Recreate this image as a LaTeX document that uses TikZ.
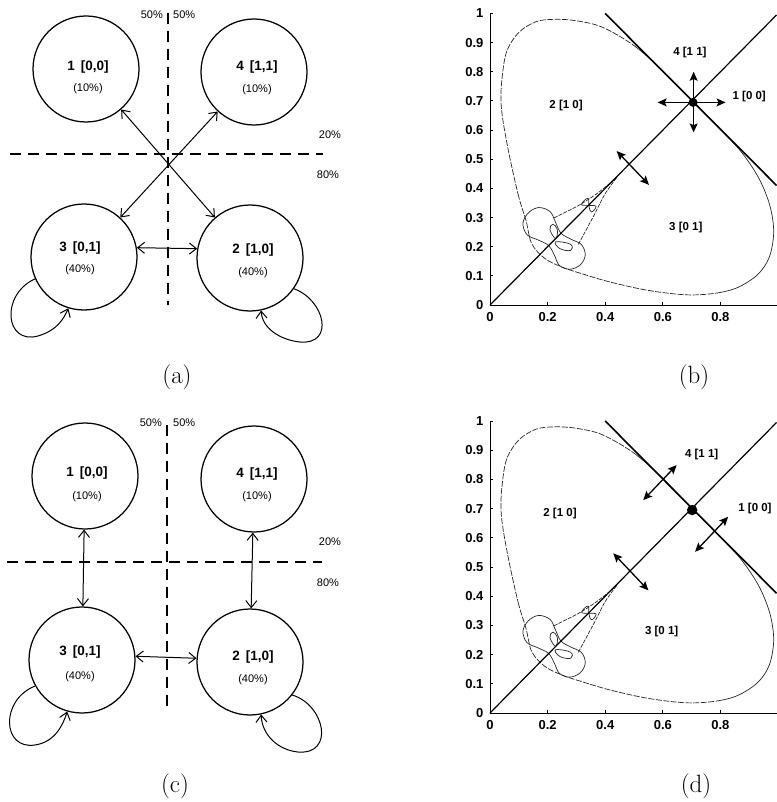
\documentclass[tikz,border=0pt]{standalone}
\usepackage{fontspec}
\newfontfamily\hv{Liberation Sans}
\usetikzlibrary{arrows.meta}

\newcommand{\bigcurve}[1]{%
  \draw[#1] plot[smooth cycle, tension=0.55] coordinates {
    (0.125,0.29) (0.1,0.37) (0.07,0.5) (0.047,0.62) (0.038,0.70) (0.042,0.78)
    (0.058,0.87) (0.1,0.935) (0.16,0.972) (0.225,0.98) (0.3,0.975) (0.39,0.953)
    (0.5,0.89) (0.6,0.803) (0.7,0.702) (0.8,0.602) (0.875,0.522) (0.935,0.432)
    (0.972,0.34) (0.985,0.25) (0.97,0.165) (0.93,0.105) (0.86,0.06) (0.78,0.04)
    (0.68,0.035) (0.55,0.05) (0.42,0.078) (0.32,0.107) (0.25,0.13) (0.19,0.16)
    (0.145,0.21)};}

\newcommand{\plotbase}[1]{%
  \begin{scope}
    \clip (-0.2,-0.2) -- (0.85,-0.2) -- (0.7,0.5) -- (0.5,0.8) -- (0.5,1.2) -- (-0.2,1.2) -- cycle;
    \bigcurve{thincurve, dash pattern=on 6pt off 1.5pt}
  \end{scope}
  \begin{scope}
    \clip (0.5,1.2) -- (1.2,1.2) -- (1.2,-0.2) -- (0.85,-0.2) -- (0.7,0.5) -- (0.5,0.8) -- cycle;
    \bigcurve{thincurve}
  \end{scope}
  \begin{scope}[shift={(0.225,0.225)}, rotate=-45]
    \draw[thincurve] plot[smooth cycle, tension=0.6] coordinates {
      (-0.13,0) (-0.118,0.038) (-0.08,0.056) (-0.042,0.044) (0,0.03) (0.04,0.04)
      (0.078,0.052) (0.113,0.036) (0.125,0) (0.11,-0.036) (0.075,-0.052) (0.04,-0.04)
      (0,-0.03) (-0.04,-0.042) (-0.08,-0.056) (-0.118,-0.038)};
    \draw[thincurve] plot[smooth cycle, tension=0.7] coordinates {
      (0,0.004) (-0.018,0.03) (-0.042,0.032) (-0.036,0.012)};
    \draw[thincurve] plot[smooth cycle, tension=0.7] coordinates {
      (0.008,-0.004) (0.035,-0.01) (0.066,0.012) (0.05,0.026)};
    \draw[thincurve, dash pattern=on 4pt off 1.2pt] plot[smooth] coordinates {
      (-0.055,0.05) (-0.025,0.14) (-0.008,0.22) (0,0.30)};
    \draw[thincurve, dash pattern=on 4pt off 1.2pt] plot[smooth] coordinates {
      (0.07,0.045) (0.035,0.16) (0.012,0.23) (0,0.30)};
    \draw[thincurve] plot[smooth cycle, tension=0.8] coordinates {
      (-0.02,0.15) (0,0.165) (0.02,0.18) (0.022,0.155) (0,0.165) (-0.02,0.18)};
  \end{scope}
  \coordinate (#1top) at (0,1);
  \coordinate (#1o) at (0,0);
  \coordinate (#1xe) at (0.995,0);
  \draw[axisline] (#1top) -- (#1o) -- (#1xe);
  \foreach \k/\lab in {0/0,1/0.1,2/0.2,3/0.3,4/0.4,5/0.5,6/0.6,7/0.7,8/0.8,9/0.9,10/1}{
    \draw[axisline] (0,\k/10) -- (0.012,\k/10);
    \node[ticklbl, anchor=east] (#1y\k) at (-0.022,\k/10) {\lab};
  }
  \foreach \k/\lab in {0/0,2/0.2,4/0.4,6/0.6,8/0.8}{
    \draw[axisline] (\k/10,0) -- (\k/10,0.012);
    \node[ticklbl] (#1x\k) at (\k/10,-0.042) {\lab};
  }
  \coordinate (#1d0) at (0,0);
  \coordinate (#1d1) at (0.995,0.995);
  \draw[diag] (#1d0) -- (#1d1);
  \coordinate (#1a0) at (0.4,1.0);
  \coordinate (#1a1) at (0.995,0.41);
  \draw[anti] (#1a0) -- (#1a1);
}

\begin{document}
\begin{tikzpicture}[x=1pt,y=-1pt,
  state/.style={draw, circle, minimum size=106pt, inner sep=0pt, line width=1.25pt},
  ttl/.style={font=\hv\bfseries\fontsize{13.5}{15}\selectfont, inner sep=0pt},
  pct/.style={font=\hv\fontsize{11}{12}\selectfont, inner sep=0pt},
  sharelbl/.style={font=\hv\fontsize{11}{12}\selectfont, inner sep=0pt},
  divider/.style={line width=1.2pt, dash pattern=on 11pt off 7pt},
  link/.style={{Straight Barb[length=7pt,width=11pt]}-{Straight Barb[length=7pt,width=11pt]}, line width=1pt},
  selfloop/.style={-{Straight Barb[length=7pt,width=11pt]}, line width=1pt},
  caption/.style={font=\fontsize{25}{30}\selectfont, inner sep=0pt},
  axisline/.style={line width=1pt},
  ticklbl/.style={font=\hv\bfseries\fontsize{13}{15}\selectfont, inner sep=0pt},
  region/.style={font=\hv\bfseries\fontsize{11.5}{13}\selectfont, inner sep=0pt},
  diag/.style={line width=1.2pt},
  anti/.style={line width=1.6pt},
  quiv/.style={{Stealth[length=9pt,width=8pt,inset=1.8pt]}-{Stealth[length=9pt,width=8pt,inset=1.8pt]}, line width=1.3pt},
  thincurve/.style={line width=0.7pt, black!85},
]
\useasboundingbox (0,0) rectangle (776,802);

% ================= (a) =================
\node[state] (c1) at (86,69) {};
\node[state] (c4) at (254,72) {};
\node[state] (c3) at (84,257) {};
\node[state] (c2) at (250,258) {};
\node[ttl] (t1a) at (88,67) {1\hspace{0.45em}[0,0]};
\node[pct] (p1a) at (88,89) {(10\%)};
\node[ttl] (t4a) at (257,67) {4\hspace{0.45em}[1,1]};
\node[pct] (p4a) at (257,90) {(10\%)};
\node[ttl] (t3a) at (80,248) {3\hspace{0.45em}[0,1]};
\node[pct] (p3a) at (80,270) {(40\%)};
\node[ttl] (t2a) at (253,250) {2\hspace{0.45em}[1,0]};
\node[pct] (p2a) at (253,273) {(40\%)};

\coordinate (va1) at (168,13);
\coordinate (va2) at (168,305);
\coordinate (ha1) at (10,154);
\coordinate (ha2) at (323,154);
\draw[divider] (va1) -- (va2);
\draw[divider] (ha1) -- (ha2);
\node[sharelbl, anchor=east] (la50) at (163,15) {50\%};
\node[sharelbl, anchor=west] (ra50) at (173,15) {50\%};
\node[sharelbl] (ua20) at (330,135) {20\%};
\node[sharelbl] (da80) at (328,175) {80\%};

\draw[link] (c1) -- (c2);
\draw[link] (c4) -- (c3);
\draw[link] (c3.10) -- (c2.170);
\draw[selfloop] (c3.204) .. controls (0,295) and (5,345) .. (38,336)
                 .. controls (58,330) and (64,318) .. (c3.253);
\draw[selfloop] (c2.325) .. controls (325,300) and (335,345) .. (300,342)
                 .. controls (280,340) and (262,328) .. (c2.282);
\node[caption] (capa) at (177,377) {(a)};

% ================= (c) =================
\node[state] (d1) at (85,476) {};
\node[state] (d4) at (254,479) {};
\node[state] (d3) at (82,660) {};
\node[state] (d2) at (250,662) {};
\node[ttl] (t1c) at (87,473) {1\hspace{0.45em}[0,0]};
\node[pct] (p1c) at (87,497) {(10\%)};
\node[ttl] (t4c) at (257,474) {4\hspace{0.45em}[1,1]};
\node[pct] (p4c) at (257,497) {(10\%)};
\node[ttl] (t3c) at (80,652) {3\hspace{0.45em}[0,1]};
\node[pct] (p3c) at (80,677) {(40\%)};
\node[ttl] (t2c) at (253,657) {2\hspace{0.45em}[1,0]};
\node[pct] (p2c) at (253,680) {(40\%)};

\coordinate (vc1) at (167,425);
\coordinate (vc2) at (167,710);
\coordinate (hc1) at (7,562);
\coordinate (hc2) at (322,562);
\draw[divider] (vc1) -- (vc2);
\draw[divider] (hc1) -- (hc2);
\node[sharelbl, anchor=east] (lc50) at (162,423) {50\%};
\node[sharelbl, anchor=west] (rc50) at (173,423) {50\%};
\node[sharelbl] (uc20) at (330,542) {20\%};
\node[sharelbl] (dc80) at (328,583) {80\%};

\draw[link] (d1) -- (d3);
\draw[link] (d4) -- (d2);
\draw[link] (d3.4) -- (d2.176);
\draw[selfloop] (d3.209) .. controls (0,700) and (2,750) .. (35,745)
                 .. controls (55,742) and (63,725) .. (d3.254);
\draw[selfloop] (d2.322) .. controls (325,705) and (335,755) .. (298,752)
                 .. controls (278,750) and (262,735) .. (d2.282);
\node[caption] (capc) at (175,786) {(c)};

% ================= (b) =================
\begin{scope}[shift={(490,305)}, x=288pt, y=291.5pt]
  \plotbase{b}
  \coordinate (bs) at (0.705,0.695);
  \fill (bs) circle (4.5pt);
  \coordinate (bl) at (0.582,0.695);
  \coordinate (br) at (0.818,0.695);
  \coordinate (bu) at (0.707,0.8);
  \coordinate (bd) at (0.707,0.592);
  \draw[quiv] (bl) -- (br);
  \draw[quiv] (bd) -- (bu);
  \coordinate (bq1) at (0.44,0.528);
  \coordinate (bq2) at (0.552,0.412);
  \draw[quiv] (bq1) -- (bq2);
  \node[region] (bR4) at (0.694,0.866) {4 [1 1]};
  \node[region] (bR1) at (0.9,0.715) {1 [0 0]};
  \node[region] (bR2) at (0.264,0.684) {2 [1 0]};
  \node[region] (bR3) at (0.68,0.265) {3 [0 1]};
\end{scope}
\node[caption] (capb) at (694,377) {(b)};

% ================= (d) =================
\begin{scope}[shift={(490,713)}, x=288pt, y=292pt]
  \plotbase{d}
  \coordinate (ds) at (0.702,0.695);
  \fill (ds) circle (5.2pt);
  \coordinate (dq1) at (0.532,0.729);
  \coordinate (dq2) at (0.648,0.849);
  \draw[quiv] (dq1) -- (dq2);
  \coordinate (dq3) at (0.712,0.552);
  \coordinate (dq4) at (0.827,0.672);
  \draw[quiv] (dq3) -- (dq4);
  \coordinate (dq5) at (0.428,0.547);
  \coordinate (dq6) at (0.55,0.42);
  \draw[quiv] (dq5) -- (dq6);
  \node[region] (dR4) at (0.735,0.884) {4 [1 1]};
  \node[region] (dR1) at (0.92,0.70) {1 [0 0]};
  \node[region] (dR2) at (0.243,0.684) {2 [1 0]};
  \node[region] (dR3) at (0.596,0.278) {3 [0 1]};
\end{scope}
\node[caption] (capd) at (696,786) {(d)};
\end{tikzpicture}
\end{document}
